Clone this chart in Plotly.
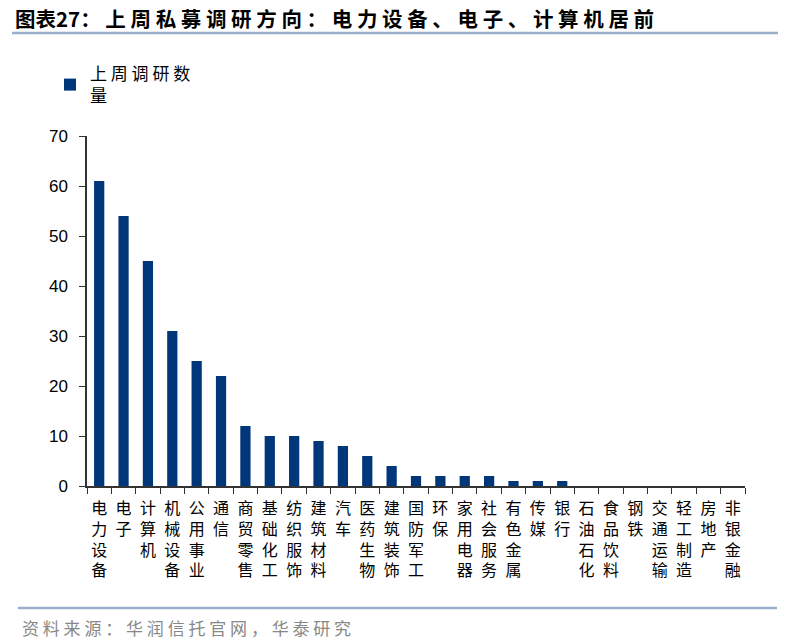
import plotly.graph_objects as go

# industries and last-week survey counts
industries = ["电力设备", "电子", "计算机", "机械设备", "公用事业", "通信", "商贸零售",
              "基础化工", "纺织服饰", "建筑材料", "汽车", "医药生物", "建筑装饰", "国防军工",
              "环保", "家用电器", "社会服务", "有色金属", "传媒", "银行", "石油石化",
              "食品饮料", "钢铁", "交通运输", "轻工制造", "房地产", "非银金融"]
counts = [61, 54, 45, 31, 25, 22, 12, 10, 10, 9, 8, 6, 4, 2, 2, 2, 2, 1, 1, 1,
          0, 0, 0, 0, 0, 0, 0]
y_ticks = [0, 10, 20, 30, 40, 50, 60, 70]

# stack characters vertically for the tick labels
tick_text = ["<br>".join(list(s)) for s in industries]


def spaced(s):
    return " ".join(list(s))


W, H = 792, 644
L, R, T, B = 87, 745, 136, 486


def px(x):
    return (x - L) / (R - L)


def py(y):
    return (B - y) / (B - T)


fig = go.Figure()
fig.add_trace(go.Bar(x=industries, y=counts, name=spaced("上周调研数") + "<br>量",
                     marker=dict(color="#00367A", line=dict(width=0))))

fig.update_layout(
    width=W, height=H,
    margin=dict(l=L, r=W - R, t=T, b=H - B, autoexpand=False),
    paper_bgcolor="white", plot_bgcolor="white",
    font=dict(family="Noto Sans CJK SC", size=16, color="black"),
    bargap=0.58,
    showlegend=True,
    legend=dict(x=px(50), y=py(56), xanchor="left", yanchor="top",
                font=dict(size=17, family="Noto Sans CJK SC"),
                itemwidth=30, bgcolor="rgba(0,0,0,0)"),
)
fig.update_xaxes(
    tickmode="array", tickvals=industries, ticktext=tick_text, tickangle=0,
    showline=True, linecolor="#333", linewidth=1.5,
    ticks="outside", tickson="boundaries", ticklen=6, tickcolor="#333",
    tickfont=dict(size=16, family="Noto Sans CJK SC"), ticklabelstandoff=7,
    showgrid=False, automargin=False,
)
fig.update_yaxes(
    range=[0, 70], tickvals=y_ticks,
    showline=True, linecolor="#333", linewidth=1.5,
    ticks="outside", ticklen=6, tickcolor="#333",
    tickfont=dict(size=17, family="Liberation Sans"), ticklabelstandoff=8,
    showgrid=False, zeroline=False, automargin=False,
)

fig.add_annotation(text="<b>图表27： " + spaced("上周私募调研方向：电力设备、电子、计算机居前") + "</b>",
                   xref="paper", yref="paper", x=px(13), y=py(18),
                   xanchor="left", yanchor="middle", showarrow=False,
                   font=dict(size=20.5, family="Noto Sans CJK SC", color="black"))
fig.add_annotation(text=spaced("资料来源：华润信托官网，华泰研究"),
                   xref="paper", yref="paper", x=px(20), y=py(627),
                   xanchor="left", yanchor="middle", showarrow=False,
                   font=dict(size=17, family="Noto Sans CJK SC", color="#888"))
fig.add_shape(type="line", xref="paper", yref="paper",
              x0=px(12), x1=px(778), y0=py(33), y1=py(33),
              line=dict(color="#9AAECB", width=2.5))
fig.add_shape(type="line", xref="paper", yref="paper",
              x0=px(18), x1=px(777), y0=py(608), y1=py(608),
              line=dict(color="#9AAECB", width=2.5))

# page body has a default margin; drop it so the figure sits at the corner
fig.write_html("out.html", config={"displayModeBar": False},
               post_script="document.body.style.margin='0';")
